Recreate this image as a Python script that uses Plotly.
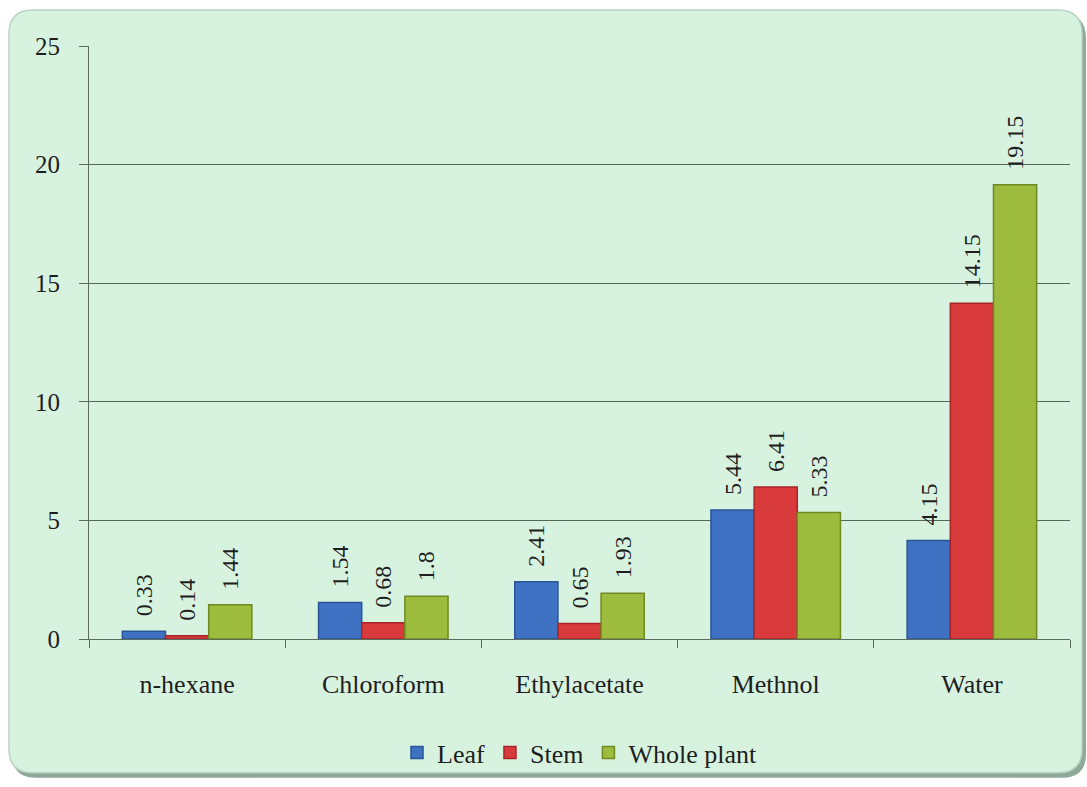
import plotly.graph_objects as go

# Extract yield by solvent and plant part
solvents = ["n-hexane", "Chloroform", "Ethylacetate", "Methnol", "Water"]
leaf = [0.33, 1.54, 2.41, 5.44, 4.15]
stem = [0.14, 0.68, 0.65, 6.41, 14.15]
whole_plant = [1.44, 1.8, 1.93, 5.33, 19.15]
y_ticks = [0, 5, 10, 15, 20, 25]

FONT = "Liberation Serif"
TXT = "#1e1e1e"
W, H = 1087, 787
ML, MR, MT, MB = 89, 17, 46, 147
PW, PH = W - ML - MR, H - MT - MB


def px_to_paper(x, y):
    return (x - ML) / PW, (H - MB - y) / PH


def rounded_rect(x0, y0, x1, y1, r):
    def P(x, y):
        u, v = px_to_paper(x, y)
        return f"{u:.5f},{v:.5f}"
    return (
        f"M {P(x0 + r, y0)} L {P(x1 - r, y0)} Q {P(x1, y0)} {P(x1, y0 + r)} "
        f"L {P(x1, y1 - r)} Q {P(x1, y1)} {P(x1 - r, y1)} "
        f"L {P(x0 + r, y1)} Q {P(x0, y1)} {P(x0, y1 - r)} "
        f"L {P(x0, y0 + r)} Q {P(x0, y0)} {P(x0 + r, y0)} Z"
    )


series = [
    ("Leaf", leaf, "#3f72c2", "#2a5596"),
    ("Stem", stem, "#d93a3c", "#a82527"),
    ("Whole plant", whole_plant, "#9dbc3d", "#6f8a22"),
]

fig = go.Figure()
for name, vals, col, edge in series:
    fig.add_trace(go.Bar(
        name=name, x=solvents, y=vals,
        marker=dict(color=col, line=dict(color=edge, width=1.5)),
        # leading non-breaking spaces lift the rotated labels off the bar tops
        text=["\u00a0\u00a0" + f"{v:g}" for v in vals],
        textposition="outside", textangle=-90, constraintext="none",
        textfont=dict(family=FONT, size=24, color=TXT),
        cliponaxis=False,
    ))

shapes = [
    # drop shadow of the chart frame
    dict(type="path", xref="paper", yref="paper", layer="below",
         path=rounded_rect(12, 14, 1086, 779, 24),
         fillcolor="#8fa898", line=dict(width=0)),
    # chart frame
    dict(type="path", xref="paper", yref="paper", layer="below",
         path=rounded_rect(9, 10, 1082, 774, 24),
         fillcolor="#d8f2e0", line=dict(color="#b9d3c2", width=1.5)),
]

fig.update_layout(
    width=W, height=H,
    margin=dict(l=ML, r=MR, t=MT, b=MB),
    paper_bgcolor="white",
    plot_bgcolor="rgba(0,0,0,0)",
    barmode="group",
    bargap=0.34,
    bargroupgap=0,
    font=dict(family=FONT, size=25, color=TXT),
    showlegend=True,
    legend=dict(orientation="h", x=0.5, xanchor="center", y=-0.15, yanchor="top",
                font=dict(family=FONT, size=26, color=TXT),
                bgcolor="rgba(0,0,0,0)", itemwidth=30, traceorder="normal"),
    shapes=shapes,
    xaxis=dict(
        showline=True, linecolor="#5b6b5e", linewidth=1.2,
        ticks="outside", tickson="boundaries", ticklen=8, tickcolor="#5b6b5e",
        tickfont=dict(family=FONT, size=26, color=TXT),
        ticklabelstandoff=22,
        showgrid=False,
    ),
    yaxis=dict(
        range=[0, 25], tickvals=y_ticks,
        showline=True, linecolor="#5b6b5e", linewidth=1.2,
        ticks="outside", ticklen=9, tickcolor="#5b6b5e",
        showgrid=True, gridcolor="#566656", gridwidth=1,
        zeroline=False,
        tickfont=dict(family=FONT, size=25, color=TXT),
        ticklabelstandoff=14,
    ),
)

fig.write_html("out.html")
